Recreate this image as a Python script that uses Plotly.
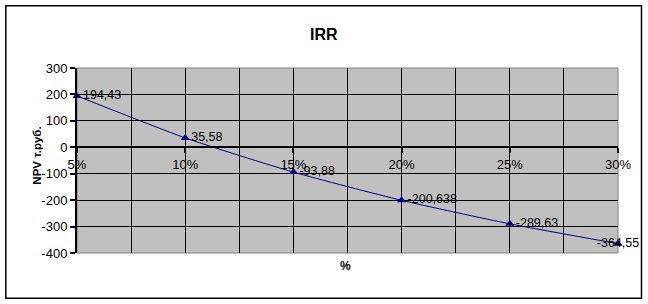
import plotly.graph_objects as go

rates = [5, 10, 15, 20, 25, 30]
npv = [194.43, 35.58, -93.88, -200.638, -289.63, -364.55]
npv_labels = ["194,43", "35,58", "-93,88", "-200,638", "-289,63", "-364,55"]
x_ticks = [5, 10, 15, 20, 25, 30]
x_ticktext = ["5%", "10%", "15%", "20%", "25%", "30%"]
y_ticks = [300, 200, 100, 0, -100, -200, -300, -400]
y_ticktext = ["300", "200", "100", "0", "-100", "-200", "-300", "-400"]

FONT = "Arial, Liberation Sans, sans-serif"
W, H = 648, 304
L, R, T, B = 76.7, 30, 67.7, 51.3
pw, ph = W - L - R, H - T - B

def px_x(x):
    return (x - L) / pw

def px_y(y):
    return (H - B - y) / ph

label_pos = ["middle right"] * 5 + ["middle center"]

fig = go.Figure()
fig.add_trace(go.Scatter(
    x=rates, y=npv, mode="lines+markers+text",
    line=dict(color="#000080", width=1, shape="spline", smoothing=0.6),
    marker=dict(symbol="triangle-up", size=8, color="#000080"),
    text=npv_labels, textposition=label_pos,
    textfont=dict(family=FONT, size=12.5, color="black"),
    cliponaxis=False, showlegend=False,
))

fig.update_layout(
    width=W, height=H,
    margin=dict(l=L, r=R, t=T, b=B),
    paper_bgcolor="white", plot_bgcolor="#C0C0C0",
    font=dict(family=FONT, size=12, color="black"),
    xaxis=dict(
        range=[5, 30], tickvals=x_ticks, ticktext=x_ticktext,
        anchor="free", position=4/7,
        showline=True, linecolor="black", linewidth=2,
        ticks="outside", ticklen=5, tickcolor="black", tickwidth=2,
        showgrid=True, gridcolor="black", gridwidth=1,
        minor=dict(dtick=2.5, showgrid=True, gridcolor="black", gridwidth=1),
        zeroline=False, tickfont=dict(size=13),
    ),
    yaxis=dict(
        range=[-400, 300], tickvals=y_ticks, ticktext=y_ticktext,
        showline=True, linecolor="black", linewidth=2,
        ticks="outside", ticklen=5, tickcolor="black", tickwidth=2,
        showgrid=True, gridcolor="black", gridwidth=1,
        zeroline=False, tickfont=dict(size=13),
    ),
)

# plot area border (gray) on top/right
fig.add_shape(type="rect", xref="paper", yref="paper", x0=0, x1=1, y0=0, y1=1,
              line=dict(color="#808080", width=1), layer="below")
# outer chart border
fig.add_shape(type="rect", xref="paper", yref="paper",
              x0=px_x(5.5), x1=px_x(641.5), y0=px_y(298), y1=px_y(5.5),
              line=dict(color="black", width=1.5))

fig.add_annotation(text="<b>IRR</b>", xref="paper", yref="paper",
                   x=px_x(324), y=px_y(24), showarrow=False,
                   font=dict(size=16, family=FONT))
fig.add_annotation(text="<b>%</b>", xref="paper", yref="paper",
                   x=px_x(345), y=px_y(275), showarrow=False,
                   font=dict(size=12, family=FONT))
fig.add_annotation(text="<b>NPV т.руб.</b>", xref="paper", yref="paper",
                   x=px_x(29), y=px_y(155), showarrow=False, textangle=-90,
                   font=dict(size=11.5, family=FONT))

fig.write_html("out.html")
